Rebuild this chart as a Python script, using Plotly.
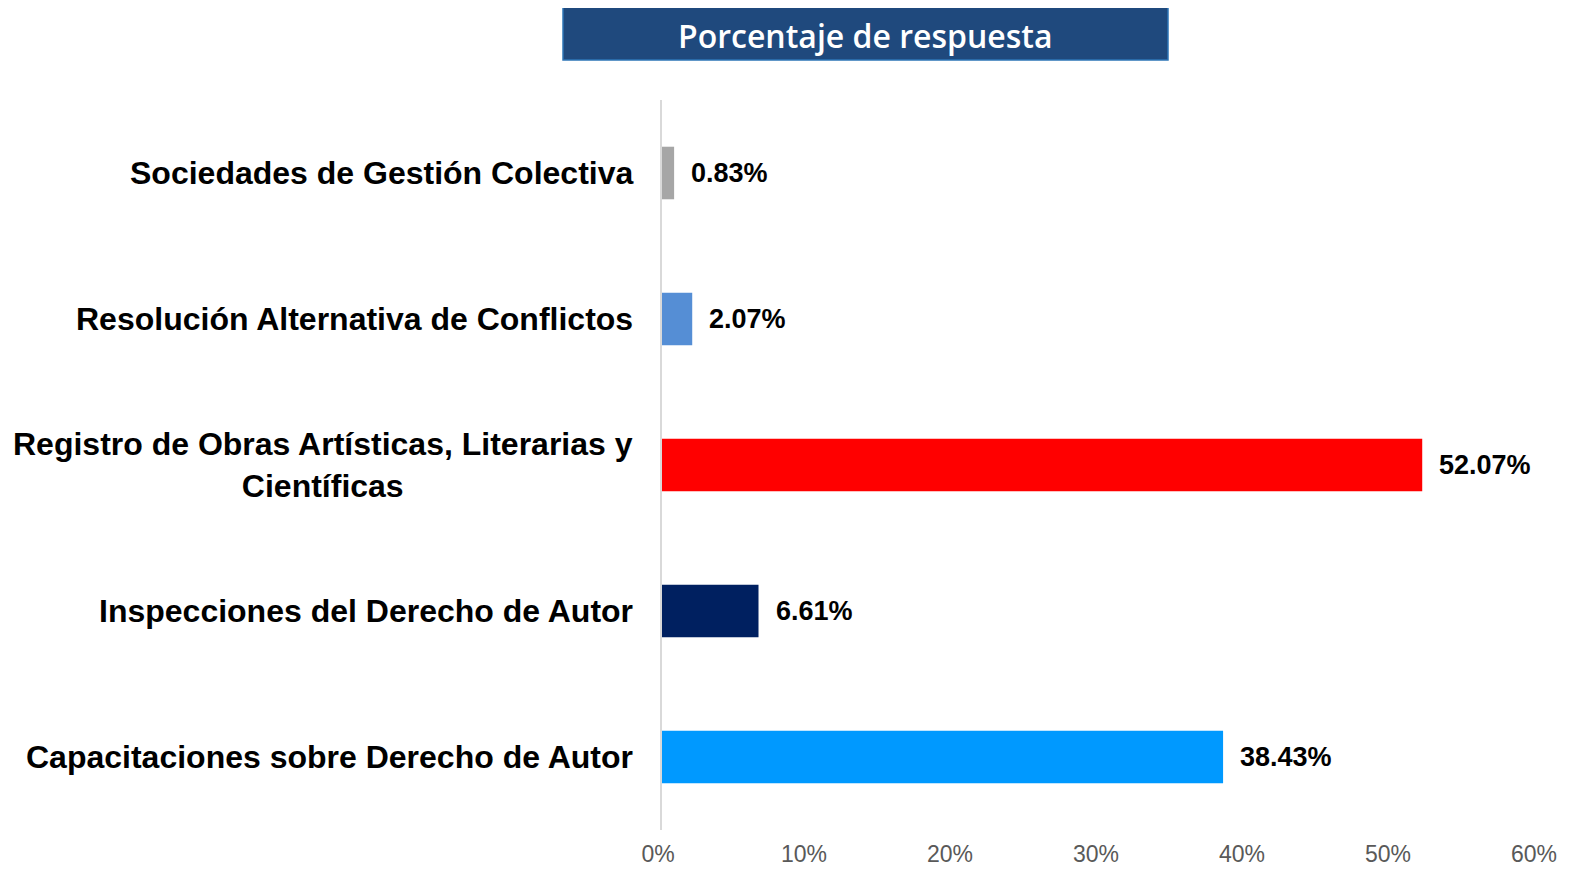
import plotly.graph_objects as go

# datos (de abajo hacia arriba)
categorias = [
    "Capacitaciones sobre Derecho de Autor",
    "Inspecciones del Derecho de Autor",
    "Registro de Obras Artísticas, Literarias y<br>Científicas",
    "Resolución Alternativa de Conflictos",
    "Sociedades de Gestión Colectiva",
]
porcentajes = [38.43, 6.61, 52.07, 2.07, 0.83]
colores = ["#0099FF", "#002060", "#FF0000", "#558ED5", "#A6A6A6"]
ticks_x = [0, 10, 20, 30, 40, 50, 60]

fig = go.Figure()
fig.add_trace(go.Bar(
    x=porcentajes,
    y=list(range(len(categorias))),
    orientation="h",
    marker=dict(color=colores, line=dict(width=0)),
    hoverinfo="skip",
))

# etiquetas de categoria y de valor como anotaciones
for i, (cat, val) in enumerate(zip(categorias, porcentajes)):
    fig.add_annotation(
        x=0, y=i, xref="x", yref="y",
        text=f"<b>{cat}</b>",
        showarrow=False,
        xanchor="right", yanchor="middle",
        xshift=-27, align="center",
        font=dict(family="Liberation Sans, Arial", size=32, color="#000000"),
    )
    fig.add_annotation(
        x=val, y=i, xref="x", yref="y",
        text=f"<b>{val:.2f}%</b>",
        showarrow=False,
        xanchor="left", yanchor="middle",
        xshift=15,
        font=dict(family="Liberation Sans, Arial", size=27, color="#000000"),
    )

# caja del titulo (coordenadas relativas al area del grafico)
ancho, alto = 876, 730
fig.add_shape(
    type="rect", xref="paper", yref="paper",
    x0=(563 - 662) / ancho, x1=(1168 - 662) / ancho,
    y0=1 + (100 - 60) / alto, y1=1 + (100 - 6) / alto,
    fillcolor="#1F497D", line=dict(color="#2E75B6", width=1.5),
    layer="above",
)
fig.add_annotation(
    x=((563 + 1168) / 2 - 662) / ancho, y=1 + (100 - 36) / alto,
    xref="paper", yref="paper", showarrow=False,
    text="Porcentaje de respuesta",
    font=dict(family="Open Sans, Liberation Sans", size=32, color="#FFFFFF", weight=600),
    xanchor="center", yanchor="middle",
)

# el body del html deja 8px de margen: se compensa aqui
fig.update_layout(
    width=1567, height=862,
    margin=dict(l=654, r=37, t=92, b=40, autoexpand=False),
    paper_bgcolor="#FFFFFF",
    plot_bgcolor="#FFFFFF",
    bargap=0.64,
    showlegend=False,
    xaxis=dict(
        range=[0, 60],
        tickvals=ticks_x,
        ticktext=[f"{t}%" for t in ticks_x],
        showgrid=False, zeroline=False, showline=False,
        tickfont=dict(family="Liberation Sans, Arial", size=23, color="#595959"),
        ticks="", ticklen=0,
        ticklabelstandoff=8,
        ticklabelshift=-4,
        automargin=False,
    ),
    yaxis=dict(
        range=[-0.5, 4.5],
        showticklabels=False,
        showgrid=False, zeroline=False,
        showline=True, linecolor="#D9D9D9", linewidth=2,
        ticks="",
        automargin=False,
    ),
)

fig.write_html("out.html")
